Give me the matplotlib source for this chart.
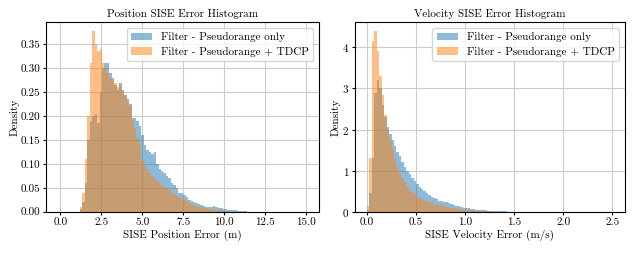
import numpy as np
import matplotlib
matplotlib.use("Agg")
import matplotlib.pyplot as plt

plt.rcParams['font.family'] = 'serif'
plt.rcParams['font.serif'] = ['cmr10', 'DejaVu Serif']
plt.rcParams['mathtext.fontset'] = 'cm'
plt.rcParams['axes.formatter.use_mathtext'] = True
plt.rcParams['font.size'] = 8

labels = ["Filter - Pseudorange only", "Filter - Pseudorange + TDCP"]

# Position histogram: bins of 0.15 m starting at 1.05 m
pos_start, pos_width = 1.05, 0.15
pos_pr = [0.0, 0.005, 0.02, 0.06, 0.15, 0.19, 0.20, 0.205, 0.185, 0.25,
          0.30, 0.31, 0.31, 0.29, 0.28, 0.265, 0.255, 0.27, 0.255, 0.245,
          0.235, 0.225, 0.195, 0.195, 0.19, 0.18, 0.16, 0.14, 0.13, 0.125,
          0.12, 0.125, 0.10, 0.09, 0.085, 0.08, 0.075, 0.07, 0.06, 0.055,
          0.05, 0.04, 0.04, 0.035, 0.03, 0.025, 0.022, 0.02, 0.018, 0.016,
          0.014, 0.012, 0.01, 0.009, 0.01, 0.012, 0.01, 0.008, 0.007, 0.006,
          0.005, 0.004, 0.004, 0.003, 0.003, 0.002, 0.002, 0.001, 0.001]
pos_tdcp = [0.0, 0.01, 0.04, 0.11, 0.20, 0.31, 0.377, 0.35, 0.335, 0.34,
            0.31, 0.30, 0.29, 0.28, 0.275, 0.27, 0.26, 0.265, 0.25, 0.245,
            0.23, 0.22, 0.19, 0.175, 0.155, 0.14, 0.105, 0.095, 0.09, 0.08,
            0.075, 0.068, 0.065, 0.06, 0.056, 0.052, 0.048, 0.045, 0.04, 0.036,
            0.033, 0.03, 0.027, 0.025, 0.022, 0.019, 0.017, 0.015, 0.012, 0.01,
            0.009, 0.008, 0.007, 0.006, 0.005, 0.004, 0.004, 0.003, 0.003, 0.002,
            0.002, 0.001, 0.001, 0.0, 0.0, 0.0, 0.0, 0.0, 0.0]

# Velocity histogram: bins of 0.025 m/s starting at 0
vel_start, vel_width = 0.0, 0.025
vel_pr = [0.05, 0.45, 1.3, 2.9, 3.2, 3.0, 2.6, 2.3, 2.05, 1.9,
          1.75, 1.6, 1.45, 1.35, 1.2, 1.1, 1.0, 0.92, 0.82, 0.75,
          0.68, 0.6, 0.55, 0.5, 0.45, 0.4, 0.36, 0.33, 0.3, 0.27,
          0.25, 0.24, 0.23, 0.21, 0.19, 0.17, 0.15, 0.13, 0.12, 0.1,
          0.09, 0.08, 0.07, 0.06, 0.05, 0.045, 0.04, 0.035, 0.03, 0.025,
          0.02, 0.017, 0.014, 0.012, 0.01, 0.008, 0.006, 0.005, 0.004, 0.003,
          0.002]
vel_tdcp = [0.15, 1.3, 4.15, 4.39, 3.9, 3.3, 2.85, 2.35, 2.0, 1.75,
            1.5, 1.3, 1.1, 0.95, 0.82, 0.72, 0.62, 0.54, 0.47, 0.42,
            0.37, 0.33, 0.3, 0.27, 0.25, 0.23, 0.21, 0.19, 0.17, 0.16,
            0.14, 0.13, 0.12, 0.11, 0.1, 0.09, 0.08, 0.07, 0.06, 0.05,
            0.045, 0.04, 0.035, 0.03, 0.025, 0.02, 0.015, 0.012, 0.01, 0.008,
            0.006, 0.005, 0.004, 0.003, 0.002, 0.002, 0.001, 0.001, 0.0, 0.0,
            0.0]

fig = plt.figure(figsize=(6.34, 2.54), dpi=100)
ax1 = fig.add_axes([0.073, 0.1665, 0.430, 0.7455])
ax2 = fig.add_axes([0.5595, 0.1665, 0.4258, 0.7455])

colors = ['#1f77b4', '#ff7f0e']

def draw(ax, start, width, series, xlim, xlabel, title, yticks):
    n = len(series[0])
    edges = start + width * np.arange(n + 1)
    for vals, c, lab in zip(series, colors, labels):
        ax.stairs(vals, edges, fill=True, color=c, alpha=0.5, label=lab, zorder=2)
    ax.set_xlim(*xlim)
    ymax = max(max(s) for s in series)
    ax.set_ylim(0, ymax * 1.05)
    ax.set_yticks(yticks)
    ax.grid(True, color='#cccccc', linewidth=0.8, zorder=0)
    ax.set_axisbelow(True)
    ax.set_xlabel(xlabel, fontsize=8, labelpad=2)
    ax.set_ylabel('Density', fontsize=8, labelpad=1)
    ax.set_title(title, fontsize=8, pad=4)
    ax.tick_params(labelsize=8, length=2.5, pad=1.5)
    ax.legend(loc='upper right', fontsize=8, framealpha=0.8,
              handlelength=1.9, borderpad=0.4, labelspacing=0.4)

draw(ax1, pos_start, pos_width, [pos_pr, pos_tdcp], (-0.85, 15.78),
     'SISE Position Error (m)', 'Position SISE Error Histogram',
     [0.0, 0.05, 0.10, 0.15, 0.20, 0.25, 0.30, 0.35])
ax1.set_xticks([0.0, 2.5, 5.0, 7.5, 10.0, 12.5, 15.0])
ax1.yaxis.set_major_formatter(matplotlib.ticker.FormatStrFormatter('%.2f'))
ax1.xaxis.set_major_formatter(matplotlib.ticker.FormatStrFormatter('%.1f'))

draw(ax2, vel_start, vel_width, [vel_pr, vel_tdcp], (-0.125, 2.625),
     'SISE Velocity Error (m/s)', 'Velocity SISE Error Histogram',
     [0, 1, 2, 3, 4])
ax2.set_xticks([0.0, 0.5, 1.0, 1.5, 2.0, 2.5])
ax2.xaxis.set_major_formatter(matplotlib.ticker.FormatStrFormatter('%.1f'))

fig.savefig('out.png', dpi=100)
